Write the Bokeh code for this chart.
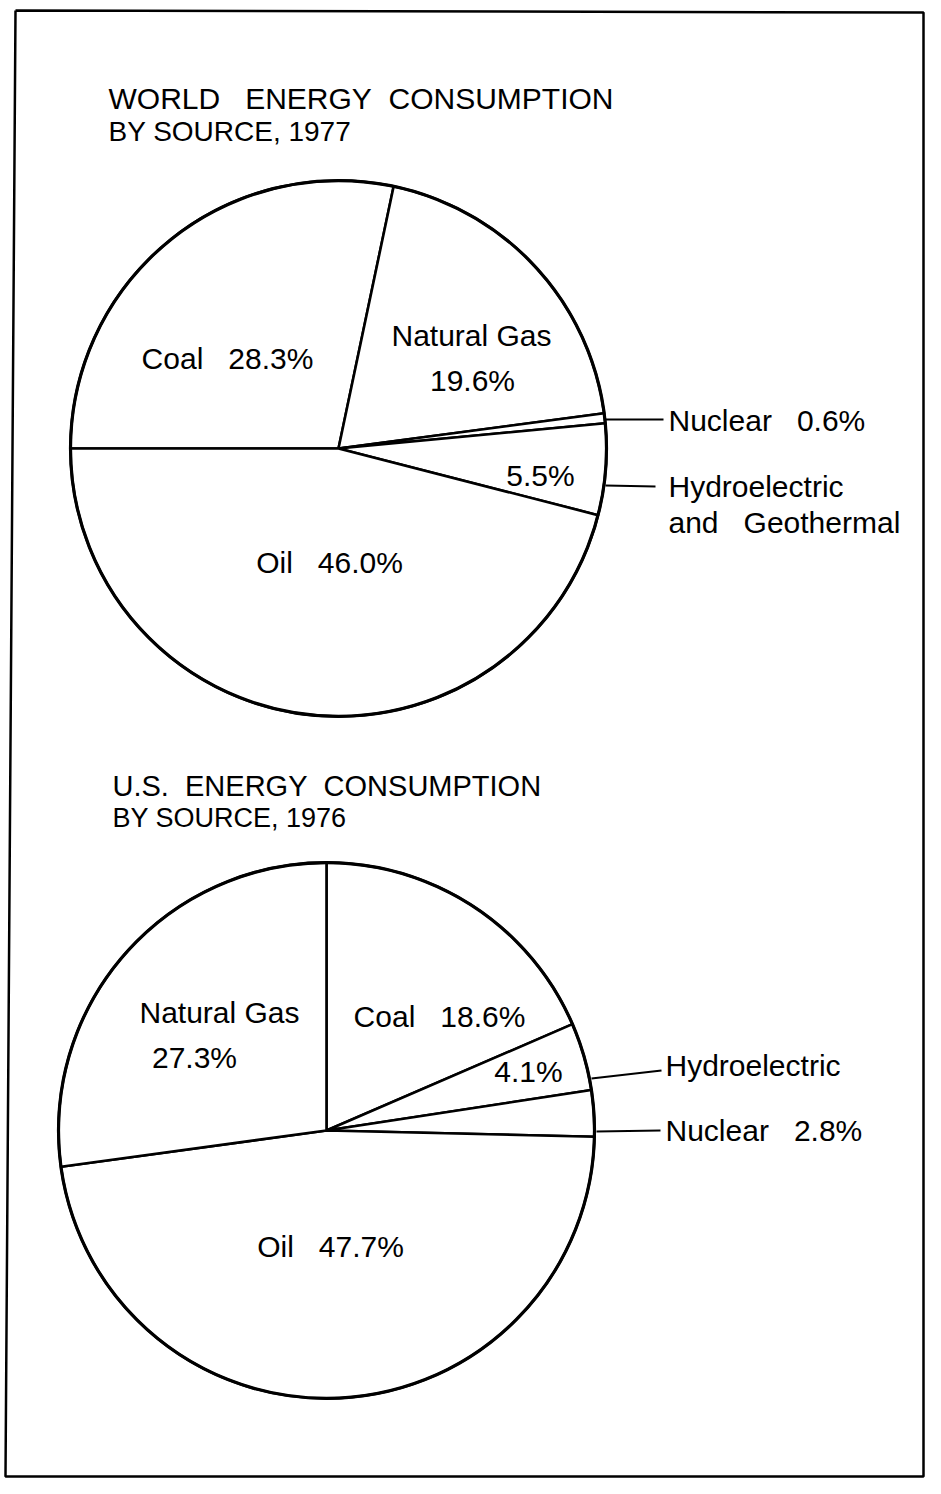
import numpy as np
from bokeh.plotting import figure
from bokeh.models import ColumnDataSource, Range1d
from bokeh.core.properties import value
from bokeh.embed import file_html
from bokeh.resources import INLINE

# ---- data ----
world_sources = ["Coal", "Natural Gas", "Nuclear", "Hydroelectric and Geothermal", "Oil"]
world_share = [28.3, 19.6, 0.6, 5.5, 46.0]
us_sources = ["Coal", "Hydroelectric", "Nuclear", "Oil", "Natural Gas"]
us_share = [18.6, 4.1, 2.8, 47.7, 27.3]

NB = "\u00a0"
FONT = value("Liberation Sans")

W, H = 925, 1478
p = figure(width=W, height=H, x_range=Range1d(0, W), y_range=Range1d(0, H),
           output_backend="svg", toolbar_location=None, min_border=0)
p.axis.visible = False
p.grid.visible = False
p.outline_line_color = None
p.background_fill_color = "white"
p.border_fill_color = "white"


def Y(iy):
    return H - np.asarray(iy, dtype=float)


def wedge_angles(shares, start_deg):
    s = np.array(shares, dtype=float)
    frac = s / s.sum()
    cum = np.concatenate([[0.0], np.cumsum(frac)[:-1]])
    end = np.deg2rad(start_deg) - cum * 2 * np.pi
    start = end - frac * 2 * np.pi
    return start, end


def draw_pie(names, shares, cx, cy, r, start_deg):
    st, en = wedge_angles(shares, start_deg)
    src = ColumnDataSource(dict(x=[cx] * len(names), y=[float(Y(cy))] * len(names),
                                start=st, end=en, name=names, share=shares))
    p.wedge(x="x", y="y", radius=r, start_angle="start", end_angle="end", source=src,
            fill_color="white", line_color="black", line_width=2.6)
    p.circle(x=[cx], y=[float(Y(cy))], radius=r, fill_color=None, line_color="black",
             line_width=3.2)


# world pie
draw_pie(world_sources, world_share, 338, 448, 268, 180)
# US pie
draw_pie(us_sources, us_share, 326, 1130, 268, 90)


def fmt(v):
    return f"{v:.1f}%"


def txt(xs, ys, texts, align="center", size="30px"):
    p.text(x=xs, y=list(Y(ys)), text=texts, text_font=FONT, text_font_size=size,
           text_align=align, text_baseline="middle", text_color="black")


# titles
txt([108], [98], ["WORLD" + NB * 3 + "ENERGY" + NB * 2 + "CONSUMPTION"], align="left", size="30px")
txt([108], [131], ["BY SOURCE, 1977"], align="left", size="28px")
txt([112], [785], ["U.S." + NB * 2 + "ENERGY" + NB * 2 + "CONSUMPTION"], align="left", size="29px")
txt([112], [817], ["BY SOURCE, 1976"], align="left", size="27px")

# world labels inside
txt([227, 471, 472, 540, 329],
    [358, 335, 380, 475, 562],
    ["Coal" + NB * 3 + fmt(world_share[0]), "Natural Gas", fmt(world_share[1]),
     fmt(world_share[3]), "Oil" + NB * 3 + fmt(world_share[4])])
# world labels outside
txt([668, 668, 668], [420, 486, 522],
    ["Nuclear" + NB * 3 + fmt(world_share[2]), "Hydroelectric", "and" + NB * 3 + "Geothermal"],
    align="left")

# US labels inside
txt([219, 194, 439, 528, 330],
    [1012, 1057, 1016, 1071, 1246],
    ["Natural Gas", fmt(us_share[4]), "Coal" + NB * 3 + fmt(us_share[0]),
     fmt(us_share[1]), "Oil" + NB * 3 + fmt(us_share[3])])
txt([665, 665], [1065, 1130],
    ["Hydroelectric", "Nuclear" + NB * 3 + fmt(us_share[2])], align="left")

# leader lines
p.segment(x0=[605, 605, 591, 596], y0=list(Y([419, 485, 1078, 1131])),
          x1=[663, 655, 661, 660], y1=list(Y([419, 486, 1070, 1130])),
          line_color="black", line_width=2)

# page frame
p.line(x=[15, 923, 923, 5, 15], y=list(Y([10, 12, 1476, 1476, 10])),
       line_color="black", line_width=2.5)

open("out.html", "w").write(file_html(p, INLINE))
